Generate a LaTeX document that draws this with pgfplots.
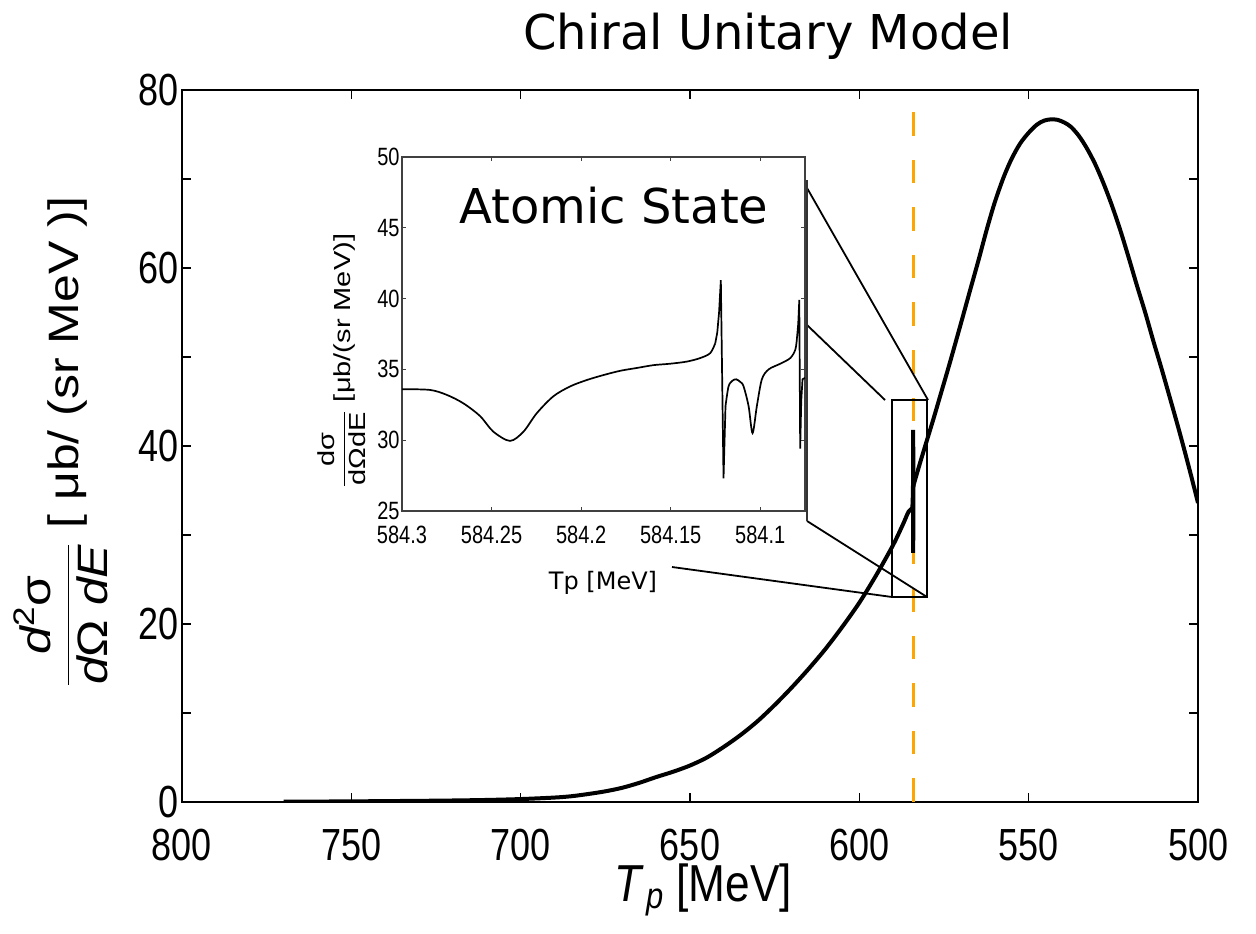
\documentclass[border=0pt]{standalone}
\usepackage{pgfplots}
\pgfplotsset{compat=1.18}
\usepackage{graphicx}
\usepackage{fontspec}
\setmainfont{Liberation Sans}
\newfontfamily\lsn{Liberation Sans}[FakeStretch=0.8]
\newfontfamily\lsx{Liberation Sans}[FakeStretch=0.85]
\newfontfamily\lsi{Liberation Sans}[FakeStretch=0.8]
\newfontfamily\lsp{Liberation Sans}
\newfontfamily\dvs{DejaVu Sans}
\definecolor{myorange}{RGB}{255,165,0}

% main curve (Tp [MeV], d2sigma/dOmega dE)
\pgfplotstableread{
x y
770 0.03
760 0.05
750 0.07
740 0.10
730 0.13
720 0.17
710 0.23
700 0.33
690 0.50
685 0.65
680 0.90
675 1.20
670 1.60
665 2.15
660 2.80
655 3.40
650 4.10
645 5.00
640 6.20
635 7.55
630 9.10
625 10.9
620 12.85
615 14.95
610 17.2
605 19.7
600 22.4
595 25.5
590 28.9
587 31.3
585.5 32.6
584.35 33.0
}\mainA
\pgfplotstableread{
x y
584.35 33.0
584.20 34.5
584.125 36.5
584.122 41.8
584.1205 28.0
584.113 34.3
584.104 30.5
584.095 35.0
584.078 39.9
584.0777 29.4
584.075 34.4
584.0 35.6
}\mainB
\pgfplotstableread{
x y
584.0 35.6
582 38.2
580 40.7
578 43.2
576 45.8
574 48.4
572.2 50.8
569.7 54.2
567.3 57.5
564.8 60.9
562.4 64.3
560 67.4
557.4 70.2
555 72.3
552.5 74.0
550 75.2
547.6 76.1
545.5 76.55
543.5 76.7
541.5 76.65
539.5 76.35
537.5 75.85
535.2 74.85
532.9 73.5
530.4 71.7
527.9 69.5
525.5 67.1
523 64.3
520.5 61.2
518.1 58.1
515.6 55.0
513.2 51.8
510.7 48.6
508.3 45.4
506 42.3
504 39.5
502 36.6
500 33.6
}\mainC

% inset: x = Tp - 584 [MeV]
\pgfplotstableread{
x y
0.3000 33.6
0.2844 33.55
0.2750 33.2
0.2657 32.6
0.2564 31.7
0.2490 30.6
0.2397 29.95
0.2322 30.6
0.2248 31.9
0.2155 33.1
0.2061 33.8
0.1968 34.25
0.1875 34.6
0.1782 34.9
0.1689 35.1
0.1596 35.3
0.1503 35.4
0.1410 35.55
0.1335 35.8
0.1279 36.15
0.1251 36.85
}\insA
\pgfplotstableread{
x y
0.1251 36.85
0.1240 37.6
0.1230 39.0
0.1220 41.3
0.1205 27.3
0.1194 32.4
}\insB
\pgfplotstableread{
x y
0.1194 32.4
0.1177 33.8
0.1155 34.2
0.1134 34.3
0.1110 34.1
0.1093 33.8
0.1065 32.4
0.1043 30.5
0.1019 32.4
0.0991 34.3
0.0953 35.0
0.0888 35.4
0.0832 35.8
0.0804 36.4
0.0795 37.2
}\insC
\pgfplotstableread{
x y
0.0795 37.2
0.0788 38.2
0.0782 39.9
0.0777 29.4
0.0771 32.8
0.0764 34.3
0.0750 34.4
}\insD

\begin{document}
\begin{tikzpicture}[x=0.5bp,y=0.5bp]
\useasboundingbox (0,0) rectangle (1256,933);

\begin{axis}[
  at={(91bp,65.5bp)}, anchor=south west,
  scale only axis, width=508bp, height=356bp,
  xmin=500, xmax=800, x dir=reverse,
  ymin=0, ymax=80,
  xtick={500,550,...,800},
  ytick={0,20,...,80}, minor ytick={10,30,50,70},
  tick align=inside,
  major tick length=4.5bp, minor tick length=4.5bp,
  axis line style={line width=1.4bp},
  every tick/.style={black, line width=0.8bp},
  /pgf/number format/assume math mode=true,
  /pgf/number format/1000 sep={},
  ticklabel style={font=\lsn\fontsize{22.5bp}{26bp}\selectfont},
  xticklabel style={inner sep=0pt, yshift=-13.5bp},
  yticklabel style={inner sep=0pt, xshift=-1.5bp},
  clip=true,
]
\addplot[myorange, line width=1.5bp, dash pattern=on 11.8bp off 12bp] coordinates {(584.1,0) (584.1,80)};
\addplot[black, line width=2bp, smooth] table {\mainA};
\addplot[black, line width=2bp] table {\mainB};
\addplot[black, line width=2bp, smooth] table {\mainC};
\end{axis}

% zoom indicator
\draw[black, line width=0.9bp] (892,533) rectangle (927,336);
\draw[black, line width=0.9bp] (807,745) -- (928,533);
\draw[black, line width=0.9bp] (807,608) -- (885,533);
\draw[black, line width=0.9bp] (807,412) -- (927,336);
\draw[black, line width=0.9bp] (672,366) -- (892,336);

\begin{axis}[
  at={(201bp,211bp)}, anchor=south west,
  scale only axis, width=201.5bp, height=177bp,
  xmin=0.075, xmax=0.3, x dir=reverse,
  ymin=25, ymax=50,
  xtick={0.1,0.15,0.2,0.25,0.3},
  xticklabels={584.1,584.15,584.2,584.25,584.3},
  ytick={25,30,...,50},
  tick align=inside, major tick length=2.2bp,
  axis line style={line width=0.6bp, black!75},
  every tick/.style={black!75, line width=0.5bp},
  axis background/.style={fill=white},
  /pgf/number format/assume math mode=true,
  ticklabel style={font=\lsi\fontsize{12.5bp}{14bp}\selectfont},
  xticklabel style={inner sep=0pt, yshift=-7.5bp},
  yticklabel style={inner sep=0pt, xshift=-1bp},
]
\addplot[black, line width=0.85bp, smooth] table {\insA};
\addplot[black, line width=0.85bp] table {\insB};
\addplot[black, line width=0.85bp, smooth, tension=0.5] table {\insC};
\addplot[black, line width=0.85bp] table {\insD};
\end{axis}

\draw[black!80, line width=0.9bp] (807,753) -- (807,412);

% texts
\node[font=\dvs\fontsize{24bp}{28bp}\selectfont, anchor=base] at (768,883) {Chiral Unitary Model};
\node[font=\dvs\fontsize{24bp}{28bp}\selectfont, anchor=base] at (614,709) {Atomic State};
\node[font=\dvs\fontsize{12bp}{14bp}\selectfont] at (603,350) {Tp [MeV]};

\node[rotate=90, font=\lsp\fontsize{25bp}{29bp}\selectfont] at (61,491)
  {\scalebox{1}[0.85]{$\displaystyle\frac{\hbox{\lsp\itshape d\textsuperscript{\upshape 2}\upshape σ}}{\hbox{\lsp\itshape d\upshape Ω \itshape dE}}$ [ μb/ (sr MeV )]}};
\node[font=\lsx\fontsize{26bp}{30bp}\selectfont, anchor=base, inner sep=0pt] at (703,32)
  {\itshape T\kern2.5bp\textsubscript{p} \upshape [MeV]};

\node[rotate=90, font=\lsp\fontsize{14.5bp}{17bp}\selectfont] at (342,572)
  {\scalebox{1}[0.8]{$\displaystyle\frac{\hbox{\lsp dσ}}{\hbox{\lsp dΩdE}}$ [μb/(sr MeV)]}};
\end{tikzpicture}
\end{document}
